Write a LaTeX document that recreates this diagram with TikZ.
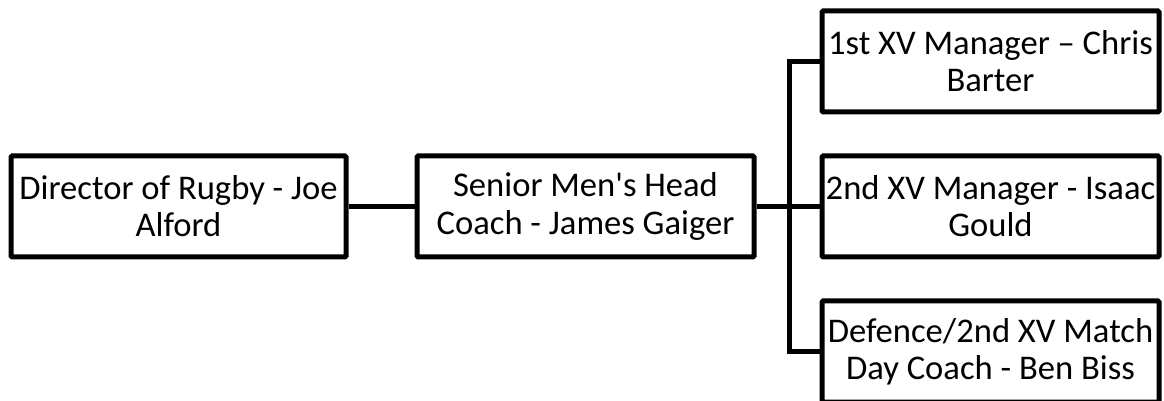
\documentclass[tikz,border=0pt]{standalone}
\usepackage{fontspec}
\setmainfont{Carlito}
\begin{document}
\begin{tikzpicture}[x=0.5pt,y=-0.5pt,
  orgbox/.style={draw=black, line width=2.5pt, rounded corners=0.6pt, fill=white,
    minimum height=50.5pt, inner sep=0pt, align=center,
    font=\fontsize{17.3pt}{18.6pt}\selectfont},
  wide/.style={orgbox, minimum width=168.5pt},
  link/.style={draw=black, line width=2.5pt}]
\useasboundingbox (0,0) rectangle (1164,401);
\node[orgbox, minimum width=167.5pt] (dir) at (178.5,206.5) {Director of Rugby - Joe\\Alford};
\node[wide] (head) at (585.5,206.5) {Senior Men\textquotesingle s Head\\Coach - James Gaiger};
\node[wide] (m1) at (990.5,61.5) {1st XV Manager – Chris\\Barter};
\node[wide] (m2) at (990.5,206.5) {2nd XV Manager - Isaac\\Gould};
\node[wide] (m3) at (990.5,351.5) {Defence/2nd XV Match\\Day Coach - Ben Biss};
\coordinate (bt) at (789,61.5);
\draw[link] (dir.east) -- (head.west);
\draw[link] (head.east) -- (m2.west);
\draw[link] (m1.west) -- (bt) |- (m3.west);
\end{tikzpicture}
\end{document}
